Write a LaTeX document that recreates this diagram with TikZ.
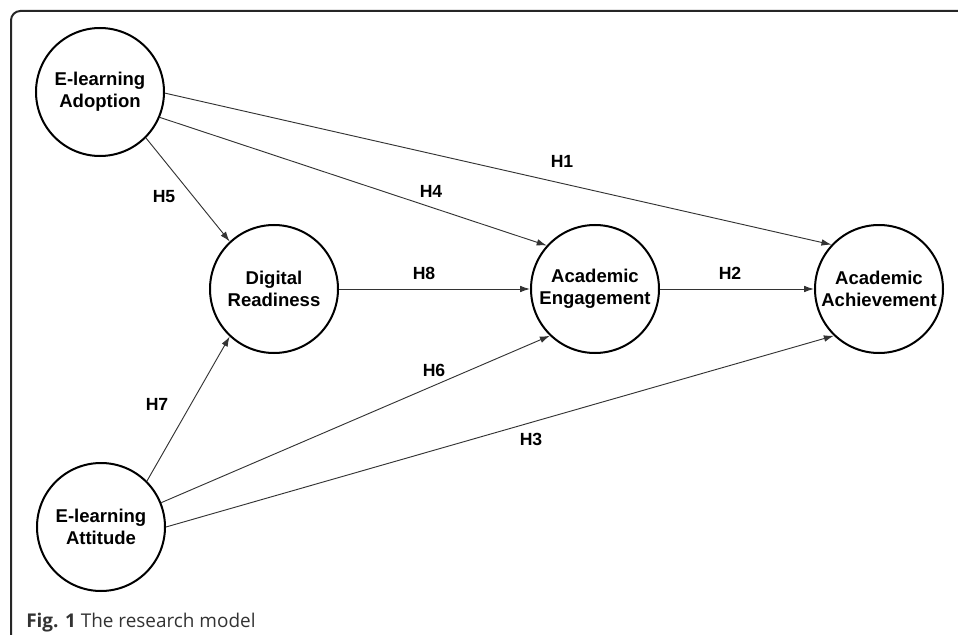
\documentclass[tikz,border=0pt]{standalone}
\usepackage{fontspec}
\setmainfont{Liberation Sans}
\newfontfamily\capfont{Open Sans}
\usetikzlibrary{arrows.meta}
\begin{document}
\begin{tikzpicture}[x=0.75pt,y=-0.75pt,
  latent/.style={circle,draw,line width=1.5pt,minimum size=96pt,inner sep=0pt,align=center,
    font=\fontsize{13.9}{16.5}\selectfont\bfseries},
  hyp/.style={draw=black!80,line width=0.7pt,-{Latex[length=7.5pt,width=5pt]}},
  hlab/.style={font=\fontsize{13.2}{15}\selectfont\bfseries}]
\useasboundingbox (0,0) rectangle (958,635);
%外框
\draw[line width=1.5pt,black!85,rounded corners=7pt] (11,640) |- (965,11);
%潜变量
\node[latent] (ado) at (100,92) {E-learning\\Adoption};
\node[latent] (att) at (101,527) {E-learning\\Attitude};
\node[latent] (rdy) at (274,289) {Digital\\Readiness};
\node[latent] (eng) at (595,289) {Academic\\Engagement};
\node[latent] (ach) at (879,289) {Academic\\Achievement};
%假设路径
\draw[hyp] (ado.-1) -- (ach.137);
\draw[hyp] (ado.-23) -- (eng.138);
\draw[hyp] (ado.-45) -- (rdy.133);
\draw[hyp] (rdy.east) -- (eng.west);
\draw[hyp] (eng.east) -- (ach.west);
\draw[hyp] (att.45) -- (rdy.227);
\draw[hyp] (att.22) -- (eng.226);
\draw[hyp] (att.0) -- (ach.226);
\node[hlab] (h1) at (562,161) {H1};
\node[hlab] (h2) at (730,273) {H2};
\node[hlab] (h3) at (531,439) {H3};
\node[hlab] (h4) at (431,191) {H4};
\node[hlab] (h5) at (164,197) {H5};
\node[hlab] (h6) at (434,370) {H6};
\node[hlab] (h7) at (157,404) {H7};
\node[hlab] (h8) at (424,273) {H8};
%图题
\node[anchor=base west,inner sep=0pt,font=\capfont\fontsize{14.2}{17}\selectfont,text=black!80]
  (cap) at (26,627) {\textbf{Fig. 1} The research model};
\end{tikzpicture}
\end{document}
